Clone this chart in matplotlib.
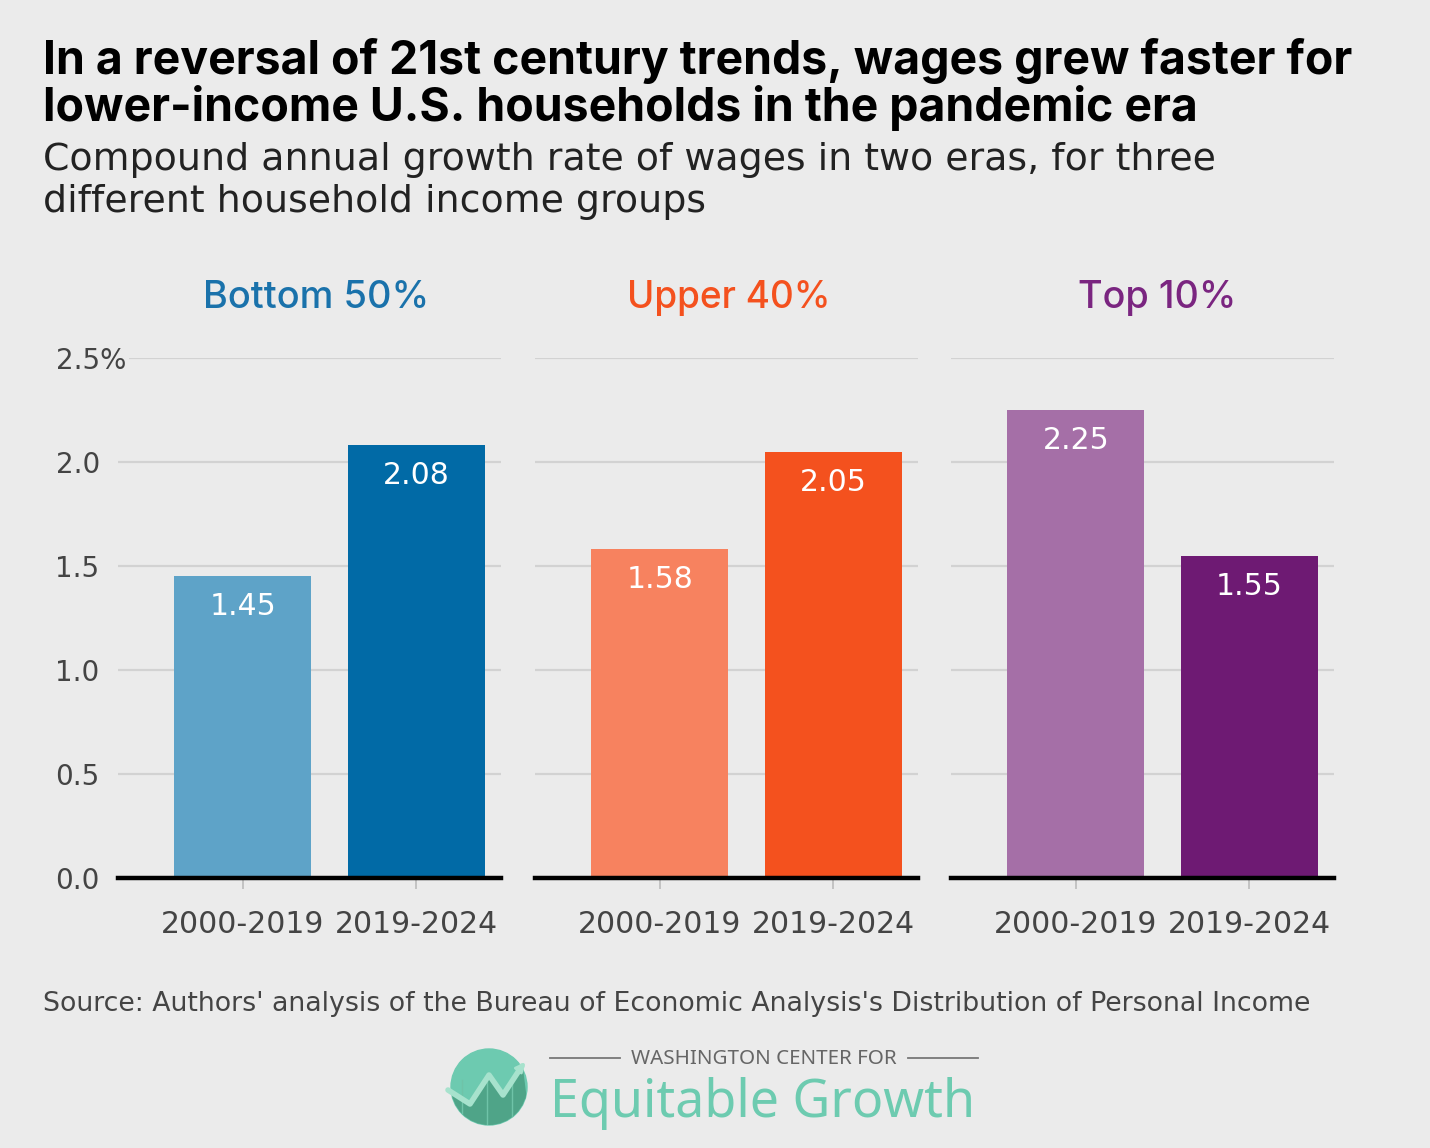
import numpy as np
import matplotlib.pyplot as plt
from matplotlib.patches import Circle, Polygon

# Chart data
groups = ['Bottom 50%', 'Upper 40%', 'Top 10%']
periods = ['2000-2019', '2019-2024']
rates_2000_2019 = [1.45, 1.58, 2.25]
rates_2019_2024 = [2.08, 2.05, 1.55]
y_ticks = [0.0, 0.5, 1.0, 1.5, 2.0, 2.5]
y_tick_labels = ['0.0', '0.5', '1.0', '1.5', '2.0', '2.5%']

# Colours per group: (title, light bar, dark bar)
group_colors = [('#1a72ab', '#5ea3c8', '#016aa6'),
                ('#f4511e', '#f7825f', '#f4511e'),
                ('#7a2580', '#a56fa7', '#6e1a73')]

BG = '#ebebeb'
W, H = 1430, 1148
BODY = 'DejaVu Sans'
HEAD = 'Inter'

fig = plt.figure(figsize=(W / 100, H / 100), dpi=100, facecolor=BG)
renderer = fig.canvas.get_renderer()


def px_rect(x0, y0, x1, y1):
    # pixel box (top-left origin) -> figure fraction rect
    return [x0 / W, 1 - y1 / H, (x1 - x0) / W, (y1 - y0) / H]


def fit_text(x, y, s, width, size0=20, **kw):
    # place text at pixel position (baseline) and scale it to a given pixel width
    t = fig.text(x / W, 1 - y / H, s, fontsize=size0, va='baseline', **kw)
    w = t.get_window_extent(renderer).width
    t.set_fontsize(size0 * width / w)
    return t


panel_lefts = [118, 535, 951]
panel_width = 383
title_centers = [316, 729, 1157]

for i, grp in enumerate(groups):
    ax = fig.add_axes(px_rect(panel_lefts[i], 358, panel_lefts[i] + panel_width, 878))
    ax.set_facecolor(BG)
    vals = [rates_2000_2019[i], rates_2019_2024[i]]
    colors = [group_colors[i][1], group_colors[i][2]]
    x = np.arange(len(periods))
    ax.bar(x, vals, width=0.79, color=colors, zorder=3)
    for xi, v in zip(x, vals):
        ax.annotate(f'{v:.2f}', (xi, v), xytext=(0, -22), textcoords='offset points',
                    ha='center', va='center', color='white', fontsize=21.5, family=BODY)
    ax.set_xlim(-0.72, 1.49)
    ax.set_ylim(0, 2.5)
    ax.set_yticks(y_ticks)
    ax.yaxis.grid(True, color='#d2d2d2', lw=1.6, zorder=0)
    ax.axhline(0, color='black', lw=3.2, zorder=4, clip_on=False)
    ax.set_xticks(x)
    ax.set_xticklabels(periods, fontsize=21.5, color='#444444', family=BODY)
    ax.tick_params(axis='x', length=8, width=1.2, color='#bcbcbc', pad=15)
    ax.tick_params(axis='y', length=0)
    if i == 0:
        labels = ax.set_yticklabels(y_tick_labels, fontsize=20, color='#444444', family=BODY,
                                    ha='left')
        labels[-1].set_bbox(dict(fc=BG, ec='none', pad=2))
        ax.tick_params(axis='y', pad=45)
    else:
        ax.set_yticklabels([])
    for s in ax.spines.values():
        s.set_visible(False)
    fit_text(title_centers[i], 308, grp, len(grp) * 22.6, color=group_colors[i][0],
             family=HEAD, fontweight='medium', ha='center')

# Title, subtitle, source
t1 = fit_text(43, 74, 'In a reversal of 21st century trends, wages grew faster for', 1312,
              family=HEAD, fontweight='bold', color='black')
fig.text(43 / W, 1 - 121 / H, 'lower-income U.S. households in the pandemic era',
         family=HEAD, fontweight='bold', color='black', va='baseline',
         fontsize=t1.get_fontsize())
sub = fit_text(43, 170, 'Compound annual growth rate of wages in two eras, for three', 1172,
               family=BODY, color='#222222')
fig.text(43 / W, 1 - 212 / H, 'different household income groups', family=BODY,
         color='#222222', va='baseline', fontsize=sub.get_fontsize())
fit_text(43, 1011,
         "Source: Authors' analysis of the Bureau of Economic Analysis's Distribution of Personal Income",
         1270, family=BODY, color='#444444')

# Logo drawn on an overlay in pixel coordinates
lax = fig.add_axes([0, 0, 1, 1])
lax.set_xlim(0, W)
lax.set_ylim(H, 0)
lax.axis('off')
lax.patch.set_alpha(0)
circ = Circle((489, 1087), 38, color='#6dcab0', zorder=1)
lax.add_patch(circ)
zig = [(448, 1090), (470, 1104), (489, 1075), (503, 1095), (522, 1066)]
lower = Polygon(zig + [(530, 1130), (445, 1130)], closed=True, color='#4fa488', zorder=2)
lax.add_patch(lower)
lower.set_clip_path(circ)
for vx in [462, 487, 512]:
    vl, = lax.plot([vx, vx], [1080, 1130], color='#6fc3a8', lw=1, zorder=3)
    vl.set_clip_path(circ)
lax.plot(*zip(*zig), color='#a7e2cd', lw=4, zorder=4, solid_capstyle='round')
lax.annotate('', xy=(527, 1060), xytext=(518, 1071),
             arrowprops=dict(arrowstyle='-|>', color='#a7e2cd', lw=2, mutation_scale=14), zorder=5)
lax.plot([550, 620], [1058, 1058], color='#777777', lw=1.3)
lax.plot([908, 978], [1058, 1058], color='#777777', lw=1.3)
fit_text(764, 1064, 'WASHINGTON CENTER FOR', 265, size0=12, family='Noto Sans',
         color='#666666', ha='center')
fit_text(550, 1117, 'Equitable Growth', 425, size0=36, family='Noto Sans', color='#6dcbb0')

fig.savefig('out.png', dpi=100, facecolor=BG)
